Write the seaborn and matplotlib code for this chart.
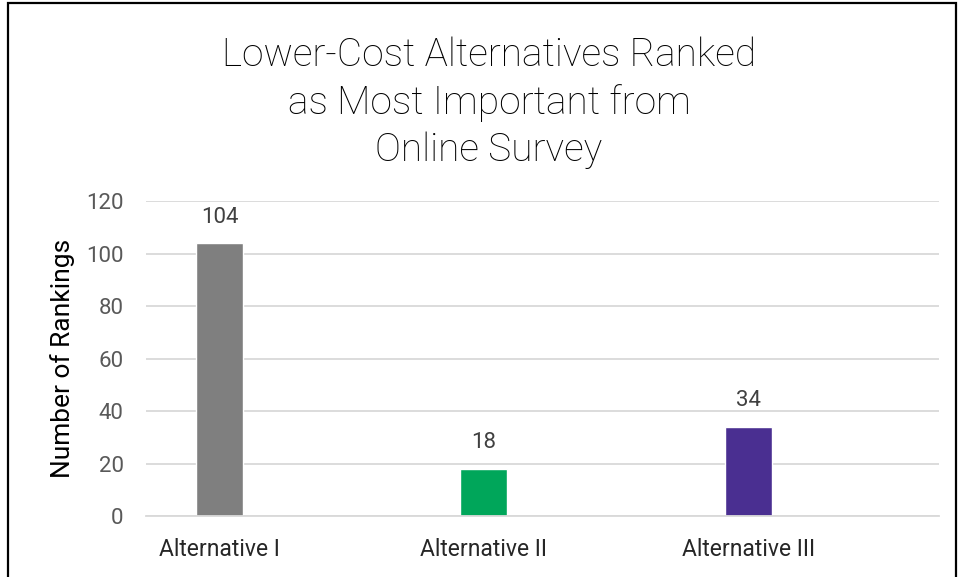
import matplotlib
matplotlib.use("Agg")
import matplotlib.pyplot as plt
import seaborn as sns
import pandas as pd
from matplotlib.patches import Rectangle

alternatives = ["Alternative I", "Alternative II", "Alternative III"]
rankings = [104, 18, 34]
bar_colors = ["#7F7F7F", "#00A65A", "#4A2F91"]
y_ticks = [0, 20, 40, 60, 80, 100, 120]

sns.set_theme(style="white")
plt.rcParams["font.family"] = ["Roboto", "DejaVu Sans"]

df = pd.DataFrame({"alt": alternatives, "n": rankings})

fig = plt.figure(figsize=(9.59, 5.77), dpi=100)
ax = fig.add_axes([0.1522, 0.1057, 0.8268, 0.5459])

sns.barplot(data=df, x="alt", y="n", hue="alt", palette=bar_colors,
            width=0.178, legend=False, ax=ax, saturation=1)

ax.set_ylim(0, 120)
ax.set_xlim(-0.278, 2.72)
ax.set_yticks(y_ticks)
ax.yaxis.grid(True, color="#D9D9D9", linewidth=1.3)
ax.set_axisbelow(True)
for s in ["top", "right", "left"]:
    ax.spines[s].set_visible(False)
ax.spines["bottom"].set_color("#D9D9D9")
ax.spines["bottom"].set_linewidth(1.3)

ax.tick_params(axis="y", labelsize=16, colors="#595959", length=0, pad=16)
ax.tick_params(axis="x", labelsize=16.5, colors="#262626", length=0, pad=16)
ax.set_xlabel("")
ax.set_ylabel("Number of Rankings", fontsize=19, color="#000000", labelpad=8)

for i, v in enumerate(rankings):
    ax.annotate(str(v), (i, v), xytext=(0, 11), textcoords="offset points",
                ha="center", va="bottom", fontsize=16, color="#404040")

fig.text(0.51, 0.822, "Lower-Cost Alternatives Ranked\nas Most Important from\nOnline Survey",
         ha="center", va="center", fontsize=28, color="#000000",
         linespacing=1.33, fontweight="light")

fig.patches.append(Rectangle((8 / 959, -0.05), (956 - 8) / 959, 1.05 - 3 / 577,
                             transform=fig.transFigure, fill=False,
                             edgecolor="black", linewidth=1.6))

plt.savefig("out.png", dpi=100)
plt.close()
